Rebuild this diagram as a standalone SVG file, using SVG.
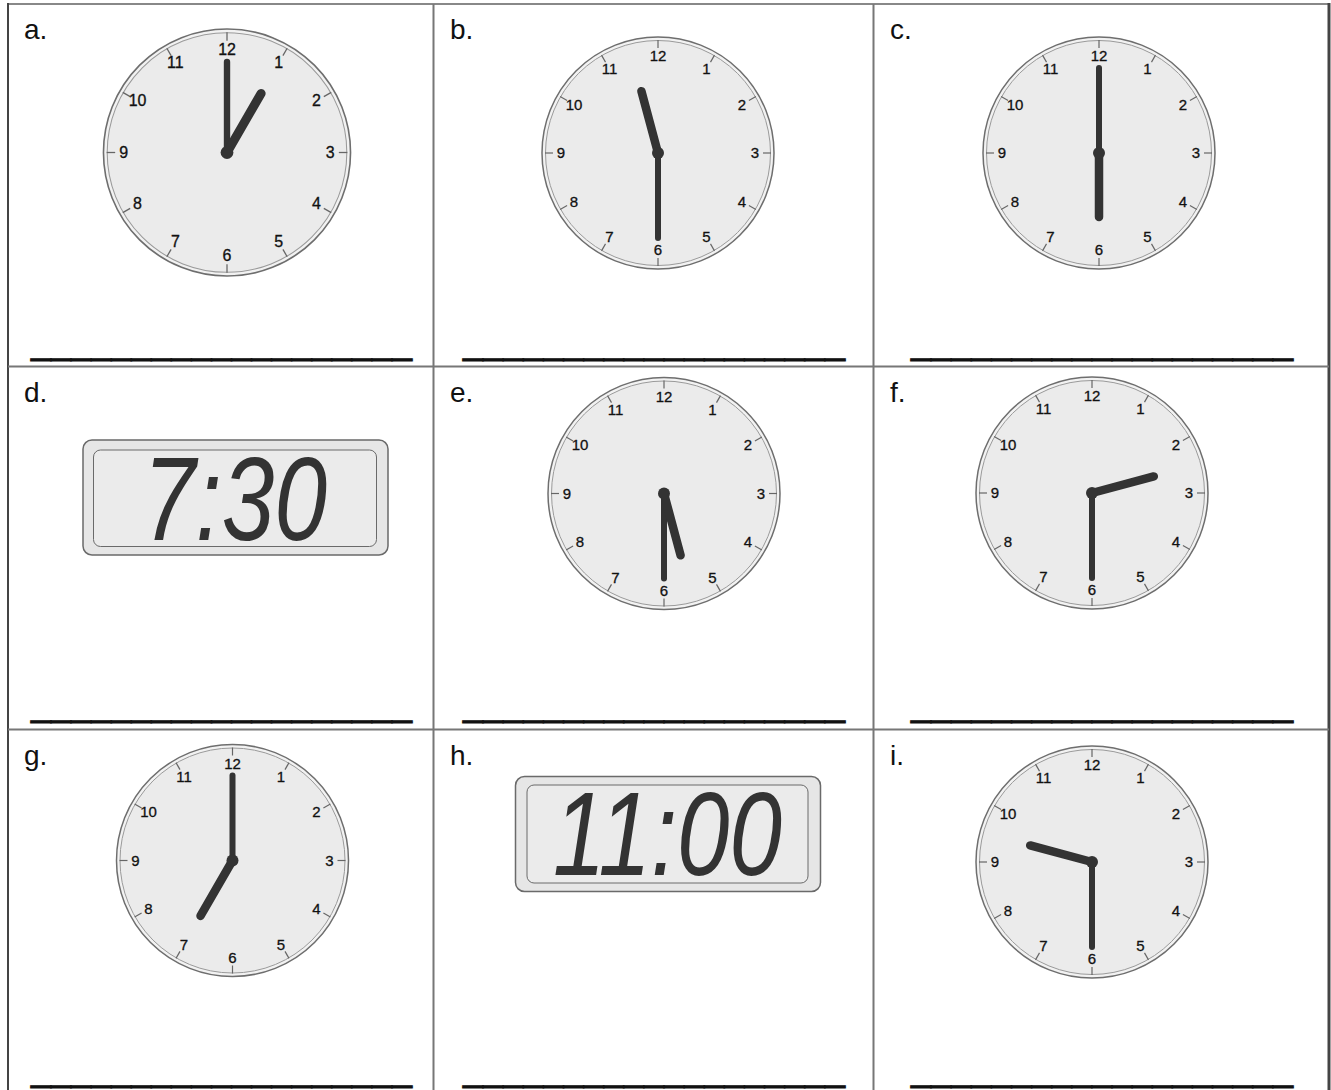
<svg xmlns="http://www.w3.org/2000/svg" xmlns:xlink="http://www.w3.org/1999/xlink" width="1331" height="1090" viewBox="0 0 1331 1090">
<style>
.lbl{font-family:"Liberation Sans","DejaVu Sans",sans-serif;font-size:28px;fill:#111}
.ul{font-family:"Liberation Sans","DejaVu Sans",sans-serif;font-size:36px;fill:#111;stroke:#111;stroke-width:0.8}
.num{font-family:"Liberation Sans","DejaVu Sans",sans-serif;font-size:15px;fill:#111;stroke:#111;stroke-width:0.3;text-anchor:middle}
.grid{stroke:#777;stroke-width:2;fill:none}
.outer{fill:#f2f2f2;stroke:#6e6e6e;stroke-width:1.5}
.inner{fill:#ebebeb;stroke:#9a9a9a;stroke-width:1}
.tick{stroke:#666;stroke-width:1.2}
.hh{stroke:#333;stroke-width:8.5;stroke-linecap:round}
.mh{stroke:#333;stroke-width:6;stroke-linecap:round}
.hub{fill:#333}
.lcdo{fill:#e6e6e6;stroke:#6a6a6a;stroke-width:1.5}
.lcdi{fill:#ebebeb;stroke:#6a6a6a;stroke-width:1}
.lcd{font-family:"Liberation Sans","DejaVu Sans",sans-serif;font-style:italic;font-size:118px;fill:#333}
</style>
<defs>
<g id="face">
<circle class="outer" r="116"/>
<circle class="inner" r="112.5"/>
<g class="tick">
<line x1="0" y1="-105" x2="0" y2="-113"/>
<line x1="52.5" y1="-90.9" x2="56.5" y2="-97.9"/>
<line x1="90.9" y1="-52.5" x2="97.9" y2="-56.5"/>
<line x1="105" y1="0" x2="113" y2="0"/>
<line x1="90.9" y1="52.5" x2="97.9" y2="56.5"/>
<line x1="52.5" y1="90.9" x2="56.5" y2="97.9"/>
<line x1="0" y1="105" x2="0" y2="113"/>
<line x1="-52.5" y1="90.9" x2="-56.5" y2="97.9"/>
<line x1="-90.9" y1="52.5" x2="-97.9" y2="56.5"/>
<line x1="-105" y1="0" x2="-113" y2="0"/>
<line x1="-90.9" y1="-52.5" x2="-97.9" y2="-56.5"/>
<line x1="-52.5" y1="-90.9" x2="-56.5" y2="-97.9"/>
</g>
</g>
</defs>
<rect width="1331" height="1090" fill="#fff"/>
<g id="grid">
<line x1="8" y1="4" x2="1329" y2="4" stroke="#888" stroke-width="2"/>
<line x1="8" y1="3" x2="8" y2="1090" stroke="#444" stroke-width="2"/>
<line x1="1329" y1="3" x2="1329" y2="1090" stroke="#444" stroke-width="3"/>
<line class="grid" x1="433.5" y1="4" x2="433.5" y2="1090"/>
<line class="grid" x1="873.5" y1="4" x2="873.5" y2="1090"/>
<line class="grid" x1="8" y1="366.5" x2="1329" y2="366.5"/>
<line class="grid" x1="8" y1="729.5" x2="1329" y2="729.5"/>
</g>
<g id="labels">
<text class="lbl" x="24" y="39">a.</text>
<text class="lbl" x="450" y="39">b.</text>
<text class="lbl" x="890" y="39">c.</text>
<text class="lbl" x="24" y="402">d.</text>
<text class="lbl" x="450" y="402">e.</text>
<text class="lbl" x="890" y="402">f.</text>
<text class="lbl" x="24" y="765">g.</text>
<text class="lbl" x="450" y="765">h.</text>
<text class="lbl" x="890" y="765">i.</text>
</g>
<g id="answer-lines">
<text class="ul" x="31" y="354" textLength="381" lengthAdjust="spacingAndGlyphs">___________________</text>
<text class="ul" x="463" y="354" textLength="382" lengthAdjust="spacingAndGlyphs">___________________</text>
<text class="ul" x="911" y="354" textLength="382" lengthAdjust="spacingAndGlyphs">___________________</text>
<text class="ul" x="31" y="716" textLength="381" lengthAdjust="spacingAndGlyphs">___________________</text>
<text class="ul" x="463" y="716" textLength="382" lengthAdjust="spacingAndGlyphs">___________________</text>
<text class="ul" x="911" y="716" textLength="382" lengthAdjust="spacingAndGlyphs">___________________</text>
<text class="ul" x="31" y="1081" textLength="381" lengthAdjust="spacingAndGlyphs">___________________</text>
<text class="ul" x="463" y="1081" textLength="382" lengthAdjust="spacingAndGlyphs">___________________</text>
<text class="ul" x="911" y="1081" textLength="382" lengthAdjust="spacingAndGlyphs">___________________</text>
</g>
<g id="clock-a" transform="translate(227,152.5) scale(1.065)">
<use xlink:href="#face" href="#face"/>
<text class="num" x="48.5" y="-84" dy="5">1</text><text class="num" x="84" y="-48.5" dy="5">2</text><text class="num" x="97" y="0" dy="5">3</text><text class="num" x="84" y="48.5" dy="5">4</text><text class="num" x="48.5" y="84" dy="5">5</text><text class="num" x="0" y="97" dy="5">6</text><text class="num" x="-48.5" y="84" dy="5">7</text><text class="num" x="-84" y="48.5" dy="5">8</text><text class="num" x="-97" y="0" dy="5">9</text><text class="num" x="-84" y="-48.5" dy="5">10</text><text class="num" x="-48.5" y="-84" dy="5">11</text><text class="num" x="0" y="-97" dy="5">12</text>
<line class="mh" x1="0" y1="0" x2="0" y2="-85"/>
<line class="hh" x1="0" y1="0" x2="32" y2="-55.4"/>
<circle class="hub" r="6"/>
</g>
<g id="clock-b" transform="translate(658,153)">
<use xlink:href="#face" href="#face"/>
<text class="num" x="48.5" y="-84" dy="5">1</text><text class="num" x="84" y="-48.5" dy="5">2</text><text class="num" x="97" y="0" dy="5">3</text><text class="num" x="84" y="48.5" dy="5">4</text><text class="num" x="48.5" y="84" dy="5">5</text><text class="num" x="0" y="97" dy="5">6</text><text class="num" x="-48.5" y="84" dy="5">7</text><text class="num" x="-84" y="48.5" dy="5">8</text><text class="num" x="-97" y="0" dy="5">9</text><text class="num" x="-84" y="-48.5" dy="5">10</text><text class="num" x="-48.5" y="-84" dy="5">11</text><text class="num" x="0" y="-97" dy="5">12</text>
<line class="mh" x1="0" y1="0" x2="0" y2="85"/>
<line class="hh" x1="0" y1="0" x2="-16.6" y2="-61.8"/>
<circle class="hub" r="6"/>
</g>
<g id="clock-c" transform="translate(1099,153)">
<use xlink:href="#face" href="#face"/>
<text class="num" x="48.5" y="-84" dy="5">1</text><text class="num" x="84" y="-48.5" dy="5">2</text><text class="num" x="97" y="0" dy="5">3</text><text class="num" x="84" y="48.5" dy="5">4</text><text class="num" x="48.5" y="84" dy="5">5</text><text class="num" x="0" y="97" dy="5">6</text><text class="num" x="-48.5" y="84" dy="5">7</text><text class="num" x="-84" y="48.5" dy="5">8</text><text class="num" x="-97" y="0" dy="5">9</text><text class="num" x="-84" y="-48.5" dy="5">10</text><text class="num" x="-48.5" y="-84" dy="5">11</text><text class="num" x="0" y="-97" dy="5">12</text>
<line class="mh" x1="0" y1="0" x2="0" y2="-85"/>
<line class="hh" x1="0" y1="0" x2="0" y2="64"/>
<circle class="hub" r="6"/>
</g>
<g id="digital-d">
<rect class="lcdo" x="83" y="440" width="305" height="115" rx="9"/>
<rect class="lcdi" x="93.5" y="450" width="283" height="96.5" rx="7"/>
<text class="lcd" x="143" y="540" textLength="184" lengthAdjust="spacingAndGlyphs">7:30</text>
</g>
<g id="clock-e" transform="translate(664,493.5)">
<use xlink:href="#face" href="#face"/>
<text class="num" x="48.5" y="-84" dy="5">1</text><text class="num" x="84" y="-48.5" dy="5">2</text><text class="num" x="97" y="0" dy="5">3</text><text class="num" x="84" y="48.5" dy="5">4</text><text class="num" x="48.5" y="84" dy="5">5</text><text class="num" x="0" y="97" dy="5">6</text><text class="num" x="-48.5" y="84" dy="5">7</text><text class="num" x="-84" y="48.5" dy="5">8</text><text class="num" x="-97" y="0" dy="5">9</text><text class="num" x="-84" y="-48.5" dy="5">10</text><text class="num" x="-48.5" y="-84" dy="5">11</text><text class="num" x="0" y="-97" dy="5">12</text>
<line class="mh" x1="0" y1="0" x2="0" y2="85"/>
<line class="hh" x1="0" y1="0" x2="16.6" y2="61.8"/>
<circle class="hub" r="6"/>
</g>
<g id="clock-f" transform="translate(1092,493)">
<use xlink:href="#face" href="#face"/>
<text class="num" x="48.5" y="-84" dy="5">1</text><text class="num" x="84" y="-48.5" dy="5">2</text><text class="num" x="97" y="0" dy="5">3</text><text class="num" x="84" y="48.5" dy="5">4</text><text class="num" x="48.5" y="84" dy="5">5</text><text class="num" x="0" y="97" dy="5">6</text><text class="num" x="-48.5" y="84" dy="5">7</text><text class="num" x="-84" y="48.5" dy="5">8</text><text class="num" x="-97" y="0" dy="5">9</text><text class="num" x="-84" y="-48.5" dy="5">10</text><text class="num" x="-48.5" y="-84" dy="5">11</text><text class="num" x="0" y="-97" dy="5">12</text>
<line class="mh" x1="0" y1="0" x2="0" y2="85"/>
<line class="hh" x1="0" y1="0" x2="61.8" y2="-16.6"/>
<circle class="hub" r="6"/>
</g>
<g id="clock-g" transform="translate(232.5,860.5)">
<use xlink:href="#face" href="#face"/>
<text class="num" x="48.5" y="-84" dy="5">1</text><text class="num" x="84" y="-48.5" dy="5">2</text><text class="num" x="97" y="0" dy="5">3</text><text class="num" x="84" y="48.5" dy="5">4</text><text class="num" x="48.5" y="84" dy="5">5</text><text class="num" x="0" y="97" dy="5">6</text><text class="num" x="-48.5" y="84" dy="5">7</text><text class="num" x="-84" y="48.5" dy="5">8</text><text class="num" x="-97" y="0" dy="5">9</text><text class="num" x="-84" y="-48.5" dy="5">10</text><text class="num" x="-48.5" y="-84" dy="5">11</text><text class="num" x="0" y="-97" dy="5">12</text>
<line class="mh" x1="0" y1="0" x2="0" y2="-85"/>
<line class="hh" x1="0" y1="0" x2="-32" y2="55.4"/>
<circle class="hub" r="6"/>
</g>
<g id="digital-h">
<rect class="lcdo" x="515.5" y="776.5" width="305" height="115" rx="9"/>
<rect class="lcdi" x="527" y="785" width="281" height="98" rx="7"/>
<text class="lcd" x="553" y="875" textLength="229" lengthAdjust="spacingAndGlyphs">11:00</text>
</g>
<g id="clock-i" transform="translate(1092,862)">
<use xlink:href="#face" href="#face"/>
<text class="num" x="48.5" y="-84" dy="5">1</text><text class="num" x="84" y="-48.5" dy="5">2</text><text class="num" x="97" y="0" dy="5">3</text><text class="num" x="84" y="48.5" dy="5">4</text><text class="num" x="48.5" y="84" dy="5">5</text><text class="num" x="0" y="97" dy="5">6</text><text class="num" x="-48.5" y="84" dy="5">7</text><text class="num" x="-84" y="48.5" dy="5">8</text><text class="num" x="-97" y="0" dy="5">9</text><text class="num" x="-84" y="-48.5" dy="5">10</text><text class="num" x="-48.5" y="-84" dy="5">11</text><text class="num" x="0" y="-97" dy="5">12</text>
<line class="mh" x1="0" y1="0" x2="0" y2="85"/>
<line class="hh" x1="0" y1="0" x2="-61.8" y2="-16.6"/>
<circle class="hub" r="6"/>
</g>
</svg>
